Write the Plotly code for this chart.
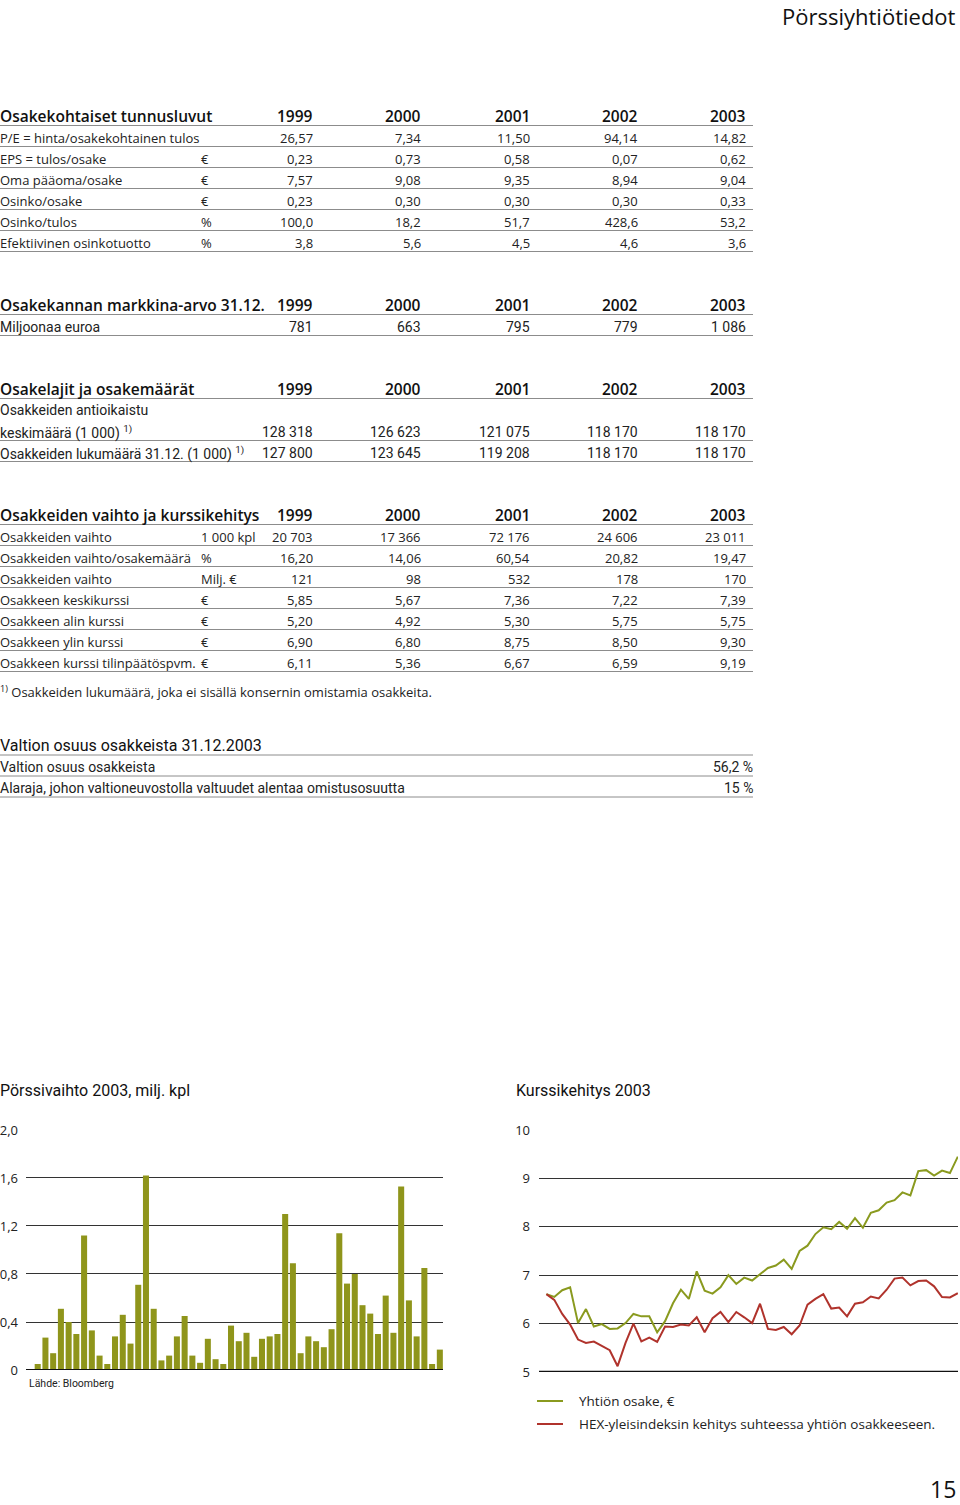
import plotly.graph_objects as go

W, H = 960, 1505

years = ["1999", "2000", "2001", "2002", "2003"]

# Osakekohtaiset tunnusluvut
t1_labels = ["P/E = hinta/osakekohtainen tulos", "EPS = tulos/osake", "Oma pääoma/osake",
             "Osinko/osake", "Osinko/tulos", "Efektiivinen osinkotuotto"]
t1_units = ["", "€", "€", "€", "%", "%"]
t1_values = [["26,57", "7,34", "11,50", "94,14", "14,82"],
             ["0,23", "0,73", "0,58", "0,07", "0,62"],
             ["7,57", "9,08", "9,35", "8,94", "9,04"],
             ["0,23", "0,30", "0,30", "0,30", "0,33"],
             ["100,0", "18,2", "51,7", "428,6", "53,2"],
             ["3,8", "5,6", "4,5", "4,6", "3,6"]]

# Osakekannan markkina-arvo
t2_labels = ["Miljoonaa euroa"]
t2_values = [["781", "663", "795", "779", "1 086"]]

# Osakelajit ja osakemäärät
t3_labels = ["keskimäärä (1 000) <sup>1)</sup>", "Osakkeiden lukumäärä 31.12. (1 000) <sup>1)</sup>"]
t3_values = [["128 318", "126 623", "121 075", "118 170", "118 170"],
             ["127 800", "123 645", "119 208", "118 170", "118 170"]]

# Osakkeiden vaihto ja kurssikehitys
t4_labels = ["Osakkeiden vaihto", "Osakkeiden vaihto/osakemäärä", "Osakkeiden vaihto",
             "Osakkeen keskikurssi", "Osakkeen alin kurssi", "Osakkeen ylin kurssi",
             "Osakkeen kurssi tilinpäätöspvm."]
t4_units = ["1 000 kpl", "%", "Milj. €", "€", "€", "€", "€"]
t4_values = [["20 703", "17 366", "72 176", "24 606", "23 011"],
             ["16,20", "14,06", "60,54", "20,82", "19,47"],
             ["121", "98", "532", "178", "170"],
             ["5,85", "5,67", "7,36", "7,22", "7,39"],
             ["5,20", "4,92", "5,30", "5,75", "5,75"],
             ["6,90", "6,80", "8,75", "8,50", "9,30"],
             ["6,11", "5,36", "6,67", "6,59", "9,19"]]

# Valtion osuus
t5_labels = ["Valtion osuus osakkeista", "Alaraja, johon valtioneuvostolla valtuudet alentaa omistusosuutta"]
t5_values = ["56,2 %", "15 %"]

# Pörssivaihto 2003, milj. kpl (weekly)
volume = [0.05, 0.27, 0.14, 0.51, 0.40, 0.30, 1.12, 0.33, 0.12, 0.05,
          0.28, 0.46, 0.22, 0.71, 1.62, 0.51, 0.08, 0.12, 0.28, 0.45,
          0.12, 0.06, 0.26, 0.09, 0.05, 0.37, 0.24, 0.31, 0.11, 0.26,
          0.28, 0.30, 1.30, 0.89, 0.14, 0.28, 0.24, 0.19, 0.34, 1.14,
          0.72, 0.80, 0.54, 0.47, 0.30, 0.62, 0.31, 1.53, 0.58, 0.28,
          0.85, 0.05, 0.17]
vol_ticks = [0, 0.4, 0.8, 1.2, 1.6, 2.0]
vol_ticktext = ["0", "0,4", "0,8", "1,2", "1,6", "2,0"]

# Kurssikehitys 2003 (weekly)
share = [6.61, 6.55, 6.69, 6.75, 6.01, 6.30, 5.94, 5.99, 5.89, 5.90,
         6.01, 6.20, 6.15, 6.15, 5.82, 6.05, 6.42, 6.70, 6.51, 7.08,
         6.68, 6.62, 6.75, 7.00, 6.82, 6.95, 6.89, 7.02, 7.15, 7.20,
         7.32, 7.13, 7.50, 7.61, 7.85, 7.99, 7.95, 8.10, 7.96, 8.18,
         7.98, 8.29, 8.34, 8.50, 8.55, 8.71, 8.65, 9.15, 9.17, 9.06,
         9.16, 9.11, 9.45]
hex_index = [6.61, 6.49, 6.20, 5.98, 5.67, 5.60, 5.63, 5.54, 5.45, 5.12,
             5.60, 6.00, 5.63, 5.71, 5.62, 5.94, 5.93, 5.98, 5.96, 6.13,
             5.82, 6.11, 6.24, 6.03, 6.24, 6.13, 6.01, 6.41, 5.89, 5.87,
             5.93, 5.78, 5.96, 6.39, 6.51, 6.61, 6.31, 6.33, 6.15, 6.41,
             6.44, 6.56, 6.52, 6.70, 6.93, 6.95, 6.79, 6.88, 6.89, 6.77,
             6.55, 6.54, 6.63]
price_ticks = [5, 6, 7, 8, 9, 10]
legend_labels = ["Yhtiön osake, €", "HEX-yleisindeksin kehitys suhteessa yhtiön osakkeeseen."]

OLIVE = "#8f951b"
GREEN = "#8a9a1f"
RED = "#b0332c"
TXT = "#222222"
RULE = "#8c8c8c"
FONT = "Open Sans, Noto Sans, sans-serif"
NARROW = "Liberation Sans Narrow, Roboto, sans-serif"


def px(x):
    return x / W


def py(y):
    return 1 - y / H


annotations = []
shapes = []


def text(x, y, s, size=13, anchor="left", family=FONT, color=TXT, weight="normal"):
    annotations.append(dict(x=px(x), y=py(y), xref="paper", yref="paper", text=s,
                            showarrow=False, xanchor=anchor, yanchor="middle",
                            borderpad=0,
                            font=dict(size=size, family=family, color=color, weight=weight)))


def rule(y, x0=0, x1=753, color=RULE, width=1):
    shapes.append(dict(type="line", xref="paper", yref="paper", x0=px(x0), x1=px(x1),
                       y0=py(y), y1=py(y), line=dict(color=color, width=width)))


col_right = [313, 421, 530, 638, 746]


def header(y, title, size=15.5):
    text(-1, y, title, size=size, weight=600, color="#111")
    for xr, yr in zip(col_right, years):
        text(xr + 1, y, yr, size=size, anchor="right", weight=600, color="#111")
    rule(y + 9.5)


def row(y, label, unit, vals, family=FONT, size=13, line=True):
    text(-1, y, label, size=size, family=family)
    if unit:
        text(200, y, unit, size=size, family=family)
    for xr, v in zip(col_right, vals):
        text(xr + 1, y, v, size=size, family=family, anchor="right")
    if line:
        rule(y + 8.5)


# Page header / footer
text(957, 15.5, "Pörssiyhtiötiedot", size=22, anchor="right", color="#111")
text(957, 1488.5, "15", size=23, anchor="right", color="#111")

# Table 1
header(116, "Osakekohtaiset tunnusluvut")
for i, (lab, u, vals) in enumerate(zip(t1_labels, t1_units, t1_values)):
    row(138 + 21 * i, lab, u, vals)

# Table 2
header(305, "Osakekannan markkina-arvo 31.12.")
row(327, t2_labels[0], "", t2_values[0], family=NARROW, size=14)

# Table 3
header(389, "Osakelajit ja osakemäärät")
text(-1, 410, "Osakkeiden antioikaistu", size=14, family=NARROW)
for i, (lab, vals) in enumerate(zip(t3_labels, t3_values)):
    row(432 + 21 * i, lab, "", vals, family=NARROW, size=14)

# Table 4
header(515, "Osakkeiden vaihto ja kurssikehitys")
for i, (lab, u, vals) in enumerate(zip(t4_labels, t4_units, t4_values)):
    row(537 + 21 * i, lab, u, vals)
text(-1, 691, "<sup>1)</sup> Osakkeiden lukumäärä, joka ei sisällä konsernin omistamia osakkeita.", size=13)

# Table 5
text(-1, 745, "Valtion osuus osakkeista 31.12.2003", size=16, family=NARROW, color="#111")
rule(755)
for i, (lab, v) in enumerate(zip(t5_labels, t5_values)):
    y = 767 + 21 * i
    text(-1, y, lab, size=14, family=NARROW)
    text(754, y, v, size=14, family=NARROW, anchor="right")
    rule(y + 9)

# Chart titles
text(-1, 1090, "Pörssivaihto 2003, milj. kpl", size=16, family=NARROW, color="#111")
text(515, 1090, "Kurssikehitys 2003", size=16, family=NARROW, color="#111")
text(28, 1383, "Lähde: Bloomberg", size=10.5, family=NARROW)

# Legend for line chart
for i, (lab, c) in enumerate(zip(legend_labels, [GREEN, RED])):
    y = 1401 + 23 * i
    shapes.append(dict(type="line", xref="paper", yref="paper", x0=px(537), x1=px(563),
                       y0=py(y), y1=py(y), line=dict(color=c, width=2)))
    text(578, y, lab, size=13.5)

fig = go.Figure()

weeks = list(range(len(volume)))
fig.add_trace(go.Bar(x=weeks, y=volume, marker=dict(color=OLIVE, line=dict(width=0)),
                     xaxis="x", yaxis="y", showlegend=False))
fig.add_trace(go.Scatter(x=list(range(len(share))), y=share, mode="lines",
                         line=dict(color=GREEN, width=2), xaxis="x2", yaxis="y2",
                         showlegend=False))
fig.add_trace(go.Scatter(x=list(range(len(hex_index))), y=hex_index, mode="lines",
                         line=dict(color=RED, width=2), xaxis="x2", yaxis="y2",
                         showlegend=False))

# baselines
shapes.append(dict(type="line", xref="x domain", yref="y", x0=0, x1=1, y0=0, y1=0,
                   line=dict(color="#111", width=2)))
shapes.append(dict(type="line", xref="x2 domain", yref="y2", x0=0, x1=1, y0=5, y1=5,
                   line=dict(color="#111", width=2.5)))

fig.update_layout(
    width=W, height=H, margin=dict(l=0, r=0, t=0, b=0, autoexpand=False),
    paper_bgcolor="white", plot_bgcolor="white",
    bargap=0.22, showlegend=False,
    font=dict(family=FONT, color=TXT),
    xaxis=dict(domain=[px(26), px(443)], range=[-1.513, 52.41], showticklabels=False,
               showgrid=False, zeroline=False, ticks=""),
    yaxis=dict(domain=[py(1370), py(1129.5)], range=[0, 2.004], tickvals=vol_ticks,
               ticktext=vol_ticktext, showgrid=True, gridcolor="#333", gridwidth=1,
               zeroline=False, ticks="", ticklabelstandoff=7,
               tickfont=dict(size=13, family=FONT, color=TXT)),
    xaxis2=dict(domain=[px(539), px(958)], range=[-0.935, 52.02], showticklabels=False,
                showgrid=False, zeroline=False, ticks="", anchor="y2"),
    yaxis2=dict(domain=[py(1372), py(1129.5)], range=[5, 10.01], tickvals=price_ticks,
                showgrid=True, gridcolor="#333", gridwidth=1, zeroline=False, ticks="",
                ticklabelstandoff=8, anchor="x2",
                tickfont=dict(size=13, family=FONT, color=TXT)),
    annotations=annotations, shapes=shapes,
)

fig.write_html("out.html", config={"displayModeBar": False},
               post_script="document.body.style.margin='0';document.body.style.overflow='hidden';")
